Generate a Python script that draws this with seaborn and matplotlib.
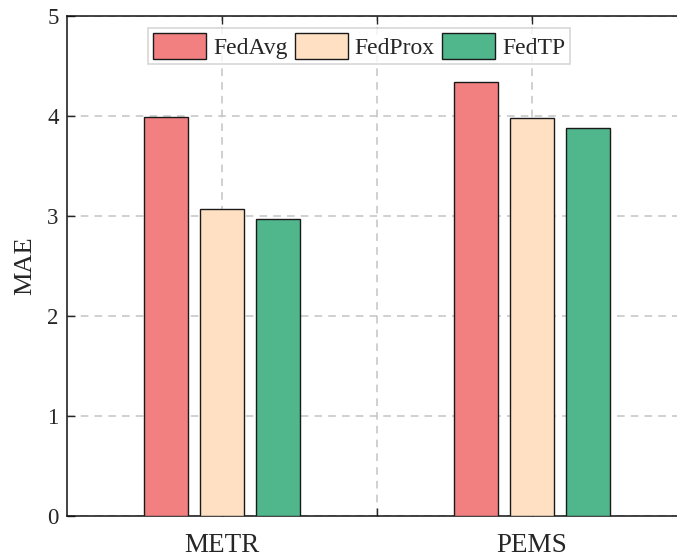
import matplotlib
matplotlib.use("Agg")
import matplotlib.pyplot as plt
import seaborn as sns
import pandas as pd

datasets = ["METR", "PEMS"]
methods = ["FedAvg", "FedProx", "FedTP"]
mae_fedavg = [3.99, 4.34]
mae_fedprox = [3.07, 3.98]
mae_fedtp = [2.97, 3.88]
colors = ["#F28080", "#FFE0C2", "#50B68C"]

rows = []
for m, vals in zip(methods, [mae_fedavg, mae_fedprox, mae_fedtp]):
    for d, v in zip(datasets, vals):
        rows.append({"Dataset": d, "Method": m, "MAE": v})
df = pd.DataFrame(rows)

sns.set_theme(style="white")
plt.rcParams["font.family"] = ["Liberation Serif", "DejaVu Serif"]

fig = plt.figure(figsize=(6.77, 5.58), dpi=100)
ax = fig.add_axes([67 / 677, 1 - 516 / 558, (687 - 67) / 677, 500 / 558])

sns.barplot(data=df, x="Dataset", y="MAE", hue="Method", order=datasets,
            hue_order=methods, palette=colors, saturation=1, width=0.546,
            gap=0.22, edgecolor="#1a1a1a", linewidth=1.0, ax=ax, zorder=3)

ax.set_xlim(-0.5, 1.5)
ax.set_ylim(0, 5)
ax.set_yticks([0, 1, 2, 3, 4, 5])
ax.set_xticks([0, 0.5, 1])
ax.set_xticklabels(["METR", "", "PEMS"], fontsize=19.5)
ax.tick_params(axis="y", labelsize=16.5, direction="in", length=6, width=1,
               left=True, pad=6)
ax.tick_params(axis="x", direction="in", length=6, width=1, bottom=True,
               top=True, pad=12)
ax.set_xlabel("")
ax.set_ylabel("MAE", fontsize=19, labelpad=8)

ax.grid(True, axis="both", color="#c4c4c4", linestyle=(0, (5, 4)),
        linewidth=1.1, zorder=0)
ax.set_axisbelow(True)
for s in ["left", "bottom", "top"]:
    ax.spines[s].set_color("#111111")
    ax.spines[s].set_linewidth(1.1)
ax.spines["right"].set_visible(False)

leg = ax.legend(loc="upper left", bbox_to_anchor=((148 - 67) / 620, 0.976),
                ncol=3, frameon=True, fancybox=False, fontsize=17,
                handlelength=2.25, handleheight=1.35, handletextpad=0.3,
                columnspacing=0.3, borderpad=0.2, borderaxespad=0)
leg.get_frame().set_edgecolor("#cccccc")
leg.get_frame().set_linewidth(1.2)

fig.savefig("out.png", dpi=100)
